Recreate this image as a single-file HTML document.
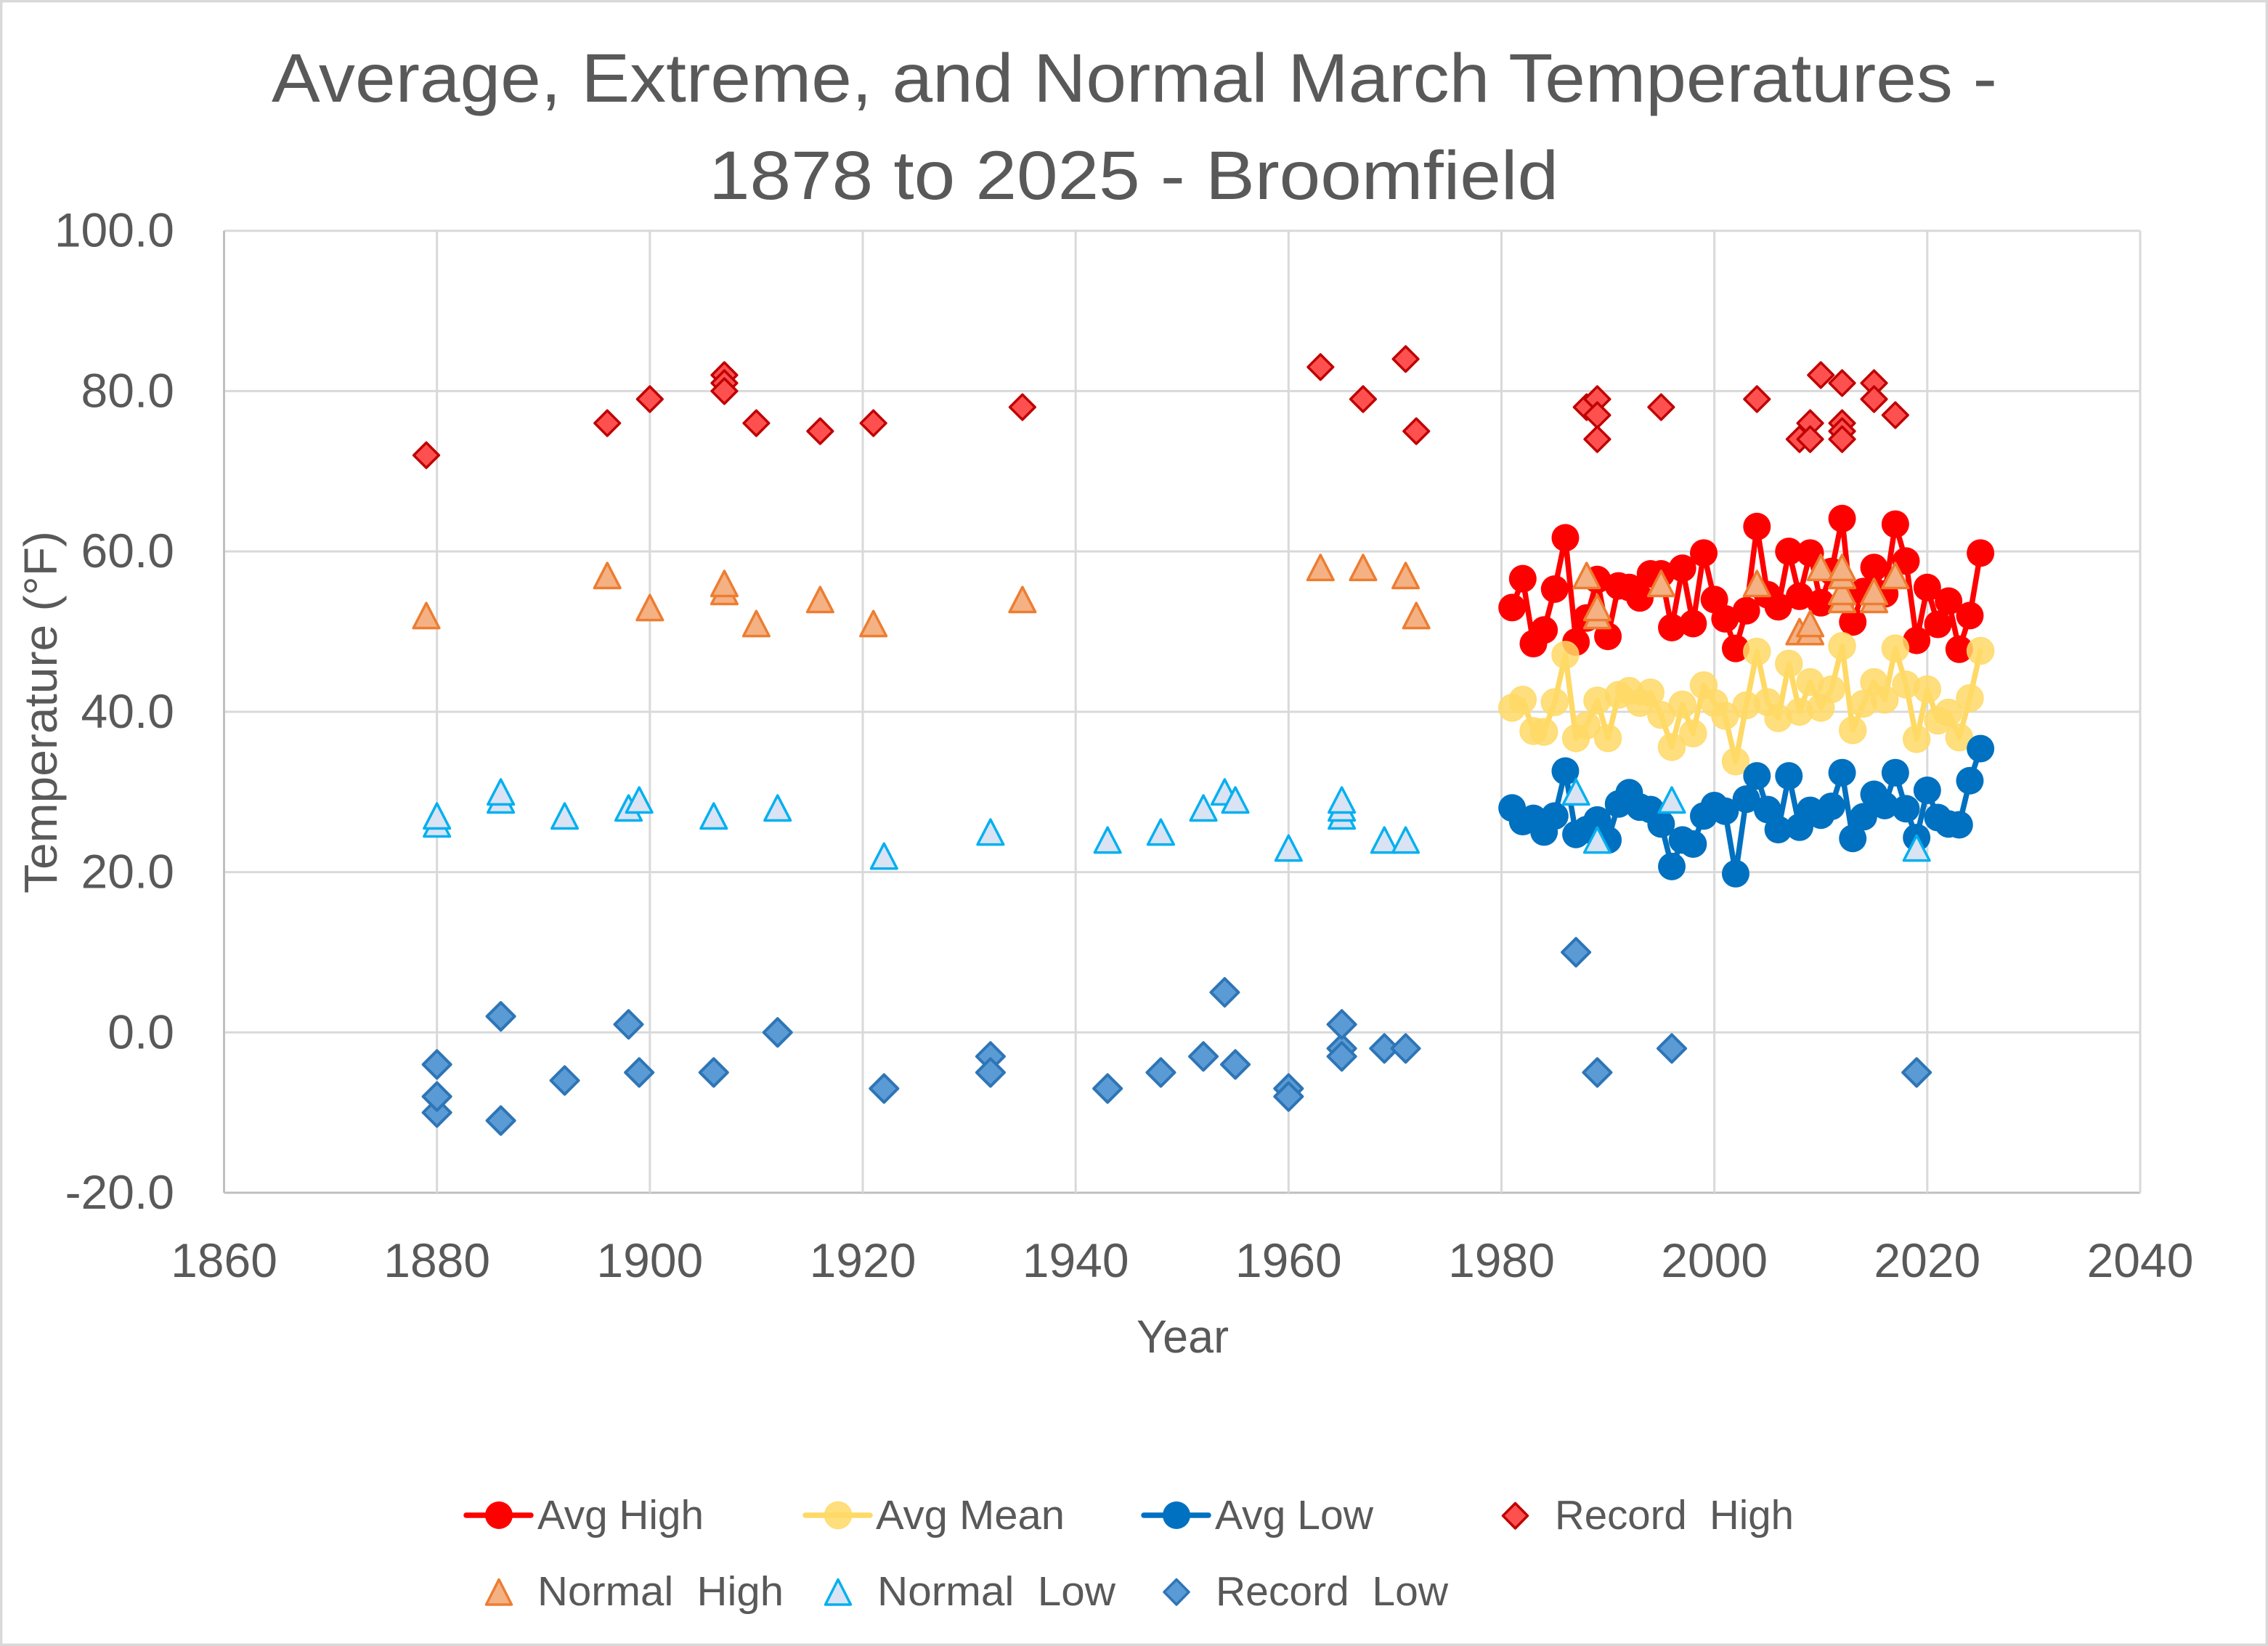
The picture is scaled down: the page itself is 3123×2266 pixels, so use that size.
<!DOCTYPE html>
<html lang="en">
<head>
<meta charset="utf-8">
<title>Average, Extreme, and Normal March Temperatures - Broomfield</title>
<style>
html,body{margin:0;padding:0;background:#fff;}
svg{display:block;}
text{font-family:"Liberation Sans",sans-serif;fill:#595959;white-space:pre;}
</style>
</head>
<body>
<svg id="chart" xmlns="http://www.w3.org/2000/svg" width="3123" height="2266" viewBox="0 0 3123 2266">
  <rect x="1.7" y="1.7" width="3119.6" height="2262.6" fill="#ffffff" stroke="#d9d9d9" stroke-width="3.4"/>
  <text x="374" y="140" font-size="95" textLength="2376" lengthAdjust="spacingAndGlyphs">Average, Extreme, and Normal March Temperatures -</text>
  <text x="976" y="274" font-size="95" textLength="1170" lengthAdjust="spacingAndGlyphs">1878 to 2025 - Broomfield</text>
  <g id="grid"></g>
  <g id="ticks"></g>
  <text transform="translate(78,1230) rotate(-90)" font-size="64" textLength="499" lengthAdjust="spacingAndGlyphs">Temperature (°F)</text>
  <text x="1565" y="1862" font-size="64" textLength="127" lengthAdjust="spacingAndGlyphs">Year</text>
  <g id="series"></g>

  <g>
    <g>
      <line x1="642" y1="2086" x2="731" y2="2086" stroke="#ff0000" stroke-width="7.5" stroke-linecap="round"/>
      <circle cx="687" cy="2086" r="19" fill="#ff0000"/>
      <text x="740" y="2105" font-size="57" textLength="229" lengthAdjust="spacingAndGlyphs">Avg High</text>
    </g>
    <g>
      <line x1="1109" y1="2086" x2="1198" y2="2086" stroke="#ffd966" stroke-width="7.5" stroke-linecap="round"/>
      <circle cx="1154" cy="2086" r="18.5" fill="#ffd966" fill-opacity="0.85" stroke="#ffd966" stroke-opacity="0.85" stroke-width="1.5"/>
      <text x="1206" y="2105" font-size="57" textLength="260" lengthAdjust="spacingAndGlyphs">Avg Mean</text>
    </g>
    <g>
      <line x1="1575" y1="2086" x2="1664" y2="2086" stroke="#0070c0" stroke-width="7.5" stroke-linecap="round"/>
      <circle cx="1620" cy="2086" r="19" fill="#0070c0"/>
      <text x="1673" y="2105" font-size="57" textLength="218" lengthAdjust="spacingAndGlyphs">Avg Low</text>
    </g>
    <g>
      <path d="M2086.5 2069.5L2103.5 2086.7L2086.5 2104L2069.5 2086.7Z" fill="#ff5050" stroke="#c00000" stroke-width="3.5" stroke-linejoin="round"/>
      <text x="2141" y="2105" font-size="57" textLength="329" lengthAdjust="spacingAndGlyphs">Record  High</text>
    </g>
    <g>
      <path d="M687 2174.5L704.5 2209L669.500 2209Z" fill="#f4b183" stroke="#ed7d31" stroke-width="3.5" stroke-linejoin="round"/>
      <text x="740" y="2210" font-size="57" textLength="339" lengthAdjust="spacingAndGlyphs">Normal  High</text>
    </g>
    <g>
      <path d="M1154 2174.5L1171.500 2209L1136.500 2209Z" fill="#dae3f3" stroke="#00b0f0" stroke-width="3.500" stroke-linejoin="round"/>
      <text x="1208" y="2210" font-size="57" textLength="328" lengthAdjust="spacingAndGlyphs">Normal  Low</text>
    </g>
    <g>
      <path d="M1620 2174.5L1637 2191.7L1620 2209L1603 2191.700Z" fill="#5b9bd5" stroke="#2e75b6" stroke-width="3.5" stroke-linejoin="round"/>
      <text x="1674" y="2210" font-size="57" textLength="320" lengthAdjust="spacingAndGlyphs">Record  Low</text>
    </g>
  </g>
</svg>

<script>
const yTickValues = [100, 80, 60, 40, 20, 0, -20];
const yTickLabels = ["100.0", "80.0", "60.0", "40.0", "20.0", "0.0", "-20.0"];
const xTickValues = [1860, 1880, 1900, 1920, 1940, 1960, 1980, 2000, 2020, 2040];
const xTickLabels = ["1860", "1880", "1900", "1920", "1940", "1960", "1980", "2000", "2020", "2040"];

const avgYears = [1981,1982,1983,1984,1985,1986,1987,1988,1989,1990,1991,1992,1993,1994,1995,1996,1997,1998,1999,2000,2001,2002,2003,2004,2005,2006,2007,2008,2009,2010,2011,2012,2013,2014,2015,2016,2017,2018,2019,2020,2021,2022,2023,2024,2025];
const avgHighValues = [53.0,56.6,48.5,50.2,55.3,61.7,48.7,51.7,56.5,49.4,55.7,55.5,54.2,57.2,57.2,50.5,57.9,51.0,59.8,54.0,51.6,47.9,52.6,63.1,54.6,53.1,60.0,54.4,59.8,53.6,57.5,64.1,51.2,55.0,58.0,54.7,63.4,58.8,48.9,55.5,50.9,53.8,47.8,52.0,59.8];
const avgMeanValues = [40.5,41.5,37.6,37.5,41.2,47.1,36.7,38.3,41.4,36.7,42.1,42.6,41.1,42.4,39.6,35.6,40.9,37.3,43.3,41.1,39.5,33.8,40.8,47.5,41.2,39.2,46.0,40.0,43.7,40.5,42.8,48.2,37.7,41.0,43.7,41.5,47.9,43.4,36.6,42.8,38.9,39.9,36.8,41.7,47.6];
const avgLowValues = [28.0,26.3,26.7,25.0,27.0,32.6,24.7,25.3,26.5,24.0,28.5,29.9,28.1,27.8,26.0,20.7,24.0,23.5,27.0,28.3,27.6,19.8,29.1,32.0,27.8,25.3,32.0,25.6,27.7,27.1,28.2,32.4,24.2,26.9,29.7,28.3,32.4,27.9,24.3,30.2,26.8,26.0,25.9,31.4,35.4];

const recordHighYears = [1879,1896,1900,1907,1907,1907,1910,1916,1921,1935,1963,1967,1971,1972,1988,1989,1989,1989,1995,2004,2008,2009,2009,2010,2012,2012,2012,2012,2015,2015,2017];
const recordHighValues = [72,76,79,82,81,80,76,75,76,78,83,79,84,75,78,79,77,74,78,79,74,76,74,82,81,76,75,74,81,79,77];

const normalHighYears = [1879,1896,1900,1907,1907,1910,1916,1921,1935,1963,1967,1971,1972,1988,1989,1989,1995,2004,2008,2009,2009,2010,2012,2012,2012,2012,2015,2015,2017];
const normalHighValues = [52,57,53,55,56,51,54,51,54,58,58,57,52,57,52,53,56,56,50,50,51,58,54,55,57,58,54,55,57];

const normalLowYears = [1880,1880,1886,1886,1892,1898,1899,1906,1912,1922,1932,1943,1948,1952,1954,1955,1960,1965,1965,1965,1969,1971,1987,1989,1996,2019];
const normalLowValues = [26,27,29,30,27,28,29,27,28,22,25,24,25,28,30,29,23,27,28,29,24,24,30,24,29,23];

const recordLowYears = [1880,1880,1880,1886,1886,1892,1898,1899,1906,1912,1922,1932,1932,1943,1948,1952,1954,1955,1960,1960,1965,1965,1965,1969,1971,1987,1989,1996,2019];
const recordLowValues = [-4,-10,-8,2,-11,-6,1,-5,-5,0,-7,-3,-5,-7,-5,-3,5,-4,-7,-8,-2,-3,1,-2,-2,10,-5,-2,-5];

const SVG_NS = "http://www.w3.org/2000/svg";
const PLOT_LEFT = 308.5, PLOT_RIGHT = 2947, PLOT_TOP = 317.7, PLOT_BOTTOM = 1642;
const X_MIN = 1860, X_MAX = 2040, Y_MIN = -20, Y_MAX = 100;

function xScale(year) {
  return PLOT_LEFT + (year - X_MIN) * (PLOT_RIGHT - PLOT_LEFT) / (X_MAX - X_MIN);
}
function yScale(value) {
  return PLOT_TOP + (Y_MAX - value) * (PLOT_BOTTOM - PLOT_TOP) / (Y_MAX - Y_MIN);
}
function make(tag, attrs, parent) {
  const el = document.createElementNS(SVG_NS, tag);
  for (const k in attrs) el.setAttribute(k, attrs[k]);
  parent.appendChild(el);
  return el;
}

const gridGroup = document.getElementById("grid");
const tickGroup = document.getElementById("ticks");
const seriesGroup = document.getElementById("series");

yTickValues.forEach(function (v, i) {
  const isAxis = v === Y_MIN;
  const line = make("line", {x1: PLOT_LEFT, x2: PLOT_RIGHT, y1: yScale(v), y2: yScale(v), stroke: isAxis ? "#bfbfbf" : "#d9d9d9", "stroke-width": 3}, gridGroup);
  
  
  const label = make("text", {x: 240, y: yScale(v) + 22, "font-size": 66, "text-anchor": "end"}, tickGroup);
  
  
  label.textContent = yTickLabels[i];
});
xTickValues.forEach(function (v, i) {
  const isAxis = v === X_MIN;
  const line = make("line", {x1: xScale(v), x2: xScale(v), y1: PLOT_TOP, y2: PLOT_BOTTOM, stroke: isAxis ? "#bfbfbf" : "#d9d9d9", "stroke-width": 3}, gridGroup);
  
  
  const label = make("text", {x: xScale(v), y: 1758, "font-size": 66, "text-anchor": "middle"}, tickGroup);
  
  
  label.textContent = xTickLabels[i];
});

function drawLineSeries(name, years, values, color, markerStyle) {
  const g = make("g", {}, seriesGroup);
  
  
  const pts = years.map(function (y, i) { return xScale(y).toFixed(1) + "," + yScale(values[i]).toFixed(1); }).join(" ");
  const line = make("polyline", {points: pts, fill: "none", stroke: color, "stroke-width": 7.5, "stroke-linejoin": "round", "stroke-linecap": "round"}, g);
  
  
  years.forEach(function (y, i) {
    const attrs = Object.assign({cx: xScale(y), cy: yScale(values[i])}, markerStyle);
    const dot = make("circle", attrs, g);
    
    
  });
}

function trianglePath(cx, cy) {
  const hw = 17.8, hh = 17.2;
  return "M" + cx + " " + (cy - hh) + "L" + (cx + hw) + " " + (cy + hh) + "L" + (cx - hw) + " " + (cy + hh) + "Z";
}
function diamondPath(cx, cy, r) {
  return "M" + cx + " " + (cy - r) + "L" + (cx + r) + " " + cy + "L" + cx + " " + (cy + r) + "L" + (cx - r) + " " + cy + "Z";
}

function drawMarkerSeries(name, years, values, pathFn, fill, stroke, sw) {
  const g = make("g", {}, seriesGroup);
  
  
  years.forEach(function (y, i) {
    const mark = make("path", {d: pathFn(xScale(y), yScale(values[i])), fill: fill, stroke: stroke, "stroke-width": sw, "stroke-linejoin": "round"}, g);
    
    
  });
}

drawLineSeries("avg-high", avgYears, avgHighValues, "#ff0000", {r: 19, fill: "#ff0000"});
drawLineSeries("avg-mean", avgYears, avgMeanValues, "#ffd966", {r: 18.5, fill: "#ffd966", "fill-opacity": 0.85, stroke: "#ffd966", "stroke-opacity": 0.85, "stroke-width": 1.5});
drawLineSeries("avg-low", avgYears, avgLowValues, "#0070c0", {r: 19, fill: "#0070c0"});
drawMarkerSeries("record-high", recordHighYears, recordHighValues, function (x, y) { return diamondPath(x, y, 17.3); }, "#ff5050", "#c00000", 3.5);
drawMarkerSeries("normal-high", normalHighYears, normalHighValues, trianglePath, "#f4b183", "#ed7d31", 3.5);
drawMarkerSeries("normal-low", normalLowYears, normalLowValues, trianglePath, "#dae3f3", "#00b0f0", 3.5);
drawMarkerSeries("record-low", recordLowYears, recordLowValues, function (x, y) { return diamondPath(x, y, 19); }, "#5b9bd5", "#2e75b6", 4);
</script>
</body>
</html>
